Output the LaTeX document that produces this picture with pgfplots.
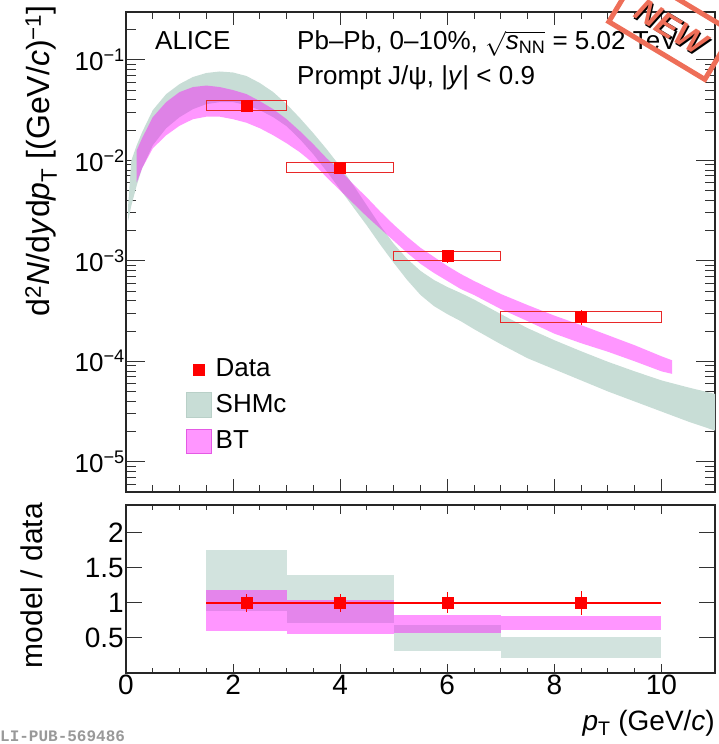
\documentclass[border=0pt]{standalone}
\usepackage{fontspec}
\setmainfont{Liberation Sans}
\setmonofont{Liberation Mono}
\usepackage{pgfplots}
\pgfplotsset{compat=1.18}

\definecolor{shmc}{RGB}{200,221,214}
\definecolor{shmcr}{RGB}{210,227,222}
\definecolor{shmcedge}{RGB}{185,208,200}
\definecolor{btc}{RGB}{255,0,255}
\definecolor{btedge}{RGB}{228,90,228}
\definecolor{datared}{RGB}{255,0,0}
\definecolor{boxred}{RGB}{232,40,40}
\definecolor{stamp}{RGB}{238,110,88}
\newcommand{\fs}[1]{\fontsize{#1}{#1}\selectfont}

\begin{document}
\begin{tikzpicture}
\useasboundingbox (0,0) rectangle (719pt,744pt);

% ---------------- top panel ----------------
\begin{axis}[
  at={(126pt,252pt)}, anchor=south west,
  scale only axis, width=589pt, height=480pt,
  xmin=0, xmax=11, ymode=log, ymin=5e-6, ymax=0.3,
  axis line style={line width=1.2pt, black!85},
  tick align=inside,
  every tick/.style={line width=1.0pt, black!80},
  xtick={0,2,4,6,8,10}, minor x tick num=3, xticklabels={},
  xtick style={/pgfplots/major tick length=13pt, /pgfplots/minor tick length=7pt},
  ytick={1e-5,1e-4,1e-3,1e-2,1e-1},
  yticklabels={10\textsuperscript{−5},10\textsuperscript{−4},10\textsuperscript{−3},10\textsuperscript{−2},10\textsuperscript{−1}},
  minor ytick={6e-6,7e-6,8e-6,9e-6,2e-5,3e-5,4e-5,5e-5,6e-5,7e-5,8e-5,9e-5,2e-4,3e-4,4e-4,5e-4,6e-4,7e-4,8e-4,9e-4,2e-3,3e-3,4e-3,5e-3,6e-3,7e-3,8e-3,9e-3,2e-2,3e-2,4e-2,5e-2,6e-2,7e-2,8e-2,9e-2,2e-1,3e-1},
  ytick style={/pgfplots/major tick length=19pt, /pgfplots/minor tick length=10pt},
  yticklabel style={font=\fs{26}, inner sep=1pt},
  /pgf/number format/assume math mode=true,
  legend cell align=left,
  legend style={at={(axis description cs:0.1014,0.2792)}, anchor=north west,
    draw=none, fill=none, inner sep=0pt, outer sep=0pt,
    row sep=10.5pt, column sep=4pt, font=\fs{26},
    nodes={inner sep=0pt, text height=19pt, text depth=5pt}},
]
\addlegendimage{legend image code/.code={\path (0pt,0pt) (25pt,0pt);\draw[only marks, mark=square*, mark size=5.5pt, color=datared] plot coordinates {(12.5pt,0pt)};}}
\addlegendentry{Data}
\addlegendimage{legend image code/.code={\draw[fill=shmc, draw=shmcedge, line width=1pt] (0pt,-12.3pt) rectangle (25pt,12.3pt);}}
\addlegendentry{SHMc}
\addlegendimage{legend image code/.code={\fill[btc, fill opacity=0.41] (0pt,-12.3pt) rectangle (25pt,12.3pt); \draw[btedge, line width=1pt] (0pt,-12.3pt) rectangle (25pt,12.3pt);}}
\addlegendentry{BT}

% SHMc band
\addplot[fill=shmc, draw=none, forget plot] coordinates {
(0.04,3.548e-3) (0.1,1.0e-2) (0.2,1.413e-2) (0.3,1.905e-2) (0.5,3.162e-2) (0.75,4.571e-2) (1,5.754e-2) (1.25,6.761e-2) (1.5,7.413e-2) (1.75,7.674e-2) (2,7.499e-2) (2.25,6.918e-2) (2.5,5.888e-2) (2.75,4.786e-2) (3,3.631e-2) (3.25,2.630e-2) (3.5,1.862e-2) (3.75,1.288e-2) (4,8.710e-3) (4.25,5.623e-3) (4.5,3.548e-3) (4.75,2.239e-3) (5,1.479e-3) (5.25,1.047e-3) (5.5,7.943e-4) (5.75,6.457e-4) (6,5.495e-4) (6.25,4.786e-4) (6.5,4.121e-4) (7,2.951e-4) (7.5,2.138e-4) (8,1.622e-4) (8.5,1.259e-4) (9,9.886e-5) (9.5,7.943e-5) (10,6.457e-5) (10.5,5.495e-5) (11,4.732e-5)
(11,2.042e-5) (10.5,2.512e-5) (10,3.162e-5) (9.5,3.981e-5) (9,5.012e-5) (8.5,6.457e-5) (8,8.318e-5) (7.5,1.072e-4) (7,1.479e-4) (6.5,2.089e-4) (6.25,2.512e-4) (6,2.951e-4) (5.75,3.548e-4) (5.5,4.571e-4) (5.25,6.457e-4) (5,9.550e-4) (4.75,1.445e-3) (4.5,2.239e-3) (4.25,3.388e-3) (4,5.129e-3) (3.75,7.762e-3) (3.5,1.148e-2) (3.25,1.622e-2) (3,2.188e-2) (2.75,2.692e-2) (2.5,3.162e-2) (2.25,3.548e-2) (2,3.802e-2) (1.75,3.802e-2) (1.5,3.631e-2) (1.25,3.236e-2) (1,2.692e-2) (0.75,2.089e-2) (0.5,1.413e-2) (0.3,8.318e-3) (0.2,5.623e-3) (0.1,3.548e-3) (0.04,2.512e-3)
} --cycle;

% BT band
\addplot[fill=btc, fill opacity=0.41, draw=none, forget plot] coordinates {
(0.2,1.259e-2) (0.3,1.660e-2) (0.5,2.692e-2) (0.75,3.802e-2) (1,4.786e-2) (1.25,5.370e-2) (1.5,5.559e-2) (1.75,5.370e-2) (2,5.012e-2) (2.25,4.571e-2) (2.5,3.890e-2) (2.75,3.236e-2) (3,2.570e-2) (3.25,1.950e-2) (3.5,1.445e-2) (3.75,1.047e-2) (4,7.943e-3) (4.25,5.754e-3) (4.5,4.266e-3) (4.75,3.090e-3) (5,2.291e-3) (5.25,1.738e-3) (5.5,1.349e-3) (5.75,1.096e-3) (6,8.913e-4) (6.25,7.413e-4) (6.5,6.310e-4) (7,4.677e-4) (7.5,3.631e-4) (8,2.851e-4) (8.5,2.291e-4) (9,1.820e-4) (9.5,1.445e-4) (10,1.122e-4) (10.2,1.023e-4)
(10.2,7.499e-5) (10,7.943e-5) (9.5,1.0e-4) (9,1.245e-4) (8.5,1.514e-4) (8,1.884e-4) (7.5,2.512e-4) (7,3.311e-4) (6.5,4.571e-4) (6.25,5.248e-4) (6,6.310e-4) (5.75,7.586e-4) (5.5,9.333e-4) (5.25,1.202e-3) (5,1.585e-3) (4.75,2.089e-3) (4.5,2.754e-3) (4.25,3.715e-3) (4,5.012e-3) (3.75,6.761e-3) (3.5,9.333e-3) (3.25,1.202e-2) (3,1.479e-2) (2.75,1.778e-2) (2.5,2.089e-2) (2.25,2.371e-2) (2,2.570e-2) (1.75,2.723e-2) (1.5,2.723e-2) (1.25,2.570e-2) (1,2.213e-2) (0.75,1.778e-2) (0.5,1.318e-2) (0.3,8.318e-3) (0.2,6.026e-3)
} --cycle;

% systematic boxes
\addplot[draw=boxred, line width=1.1pt, forget plot] coordinates {(1.5,0.0313) (3,0.0313) (3,0.0394) (1.5,0.0394)} --cycle;
\addplot[draw=boxred, line width=1.1pt, forget plot] coordinates {(3,0.00762) (5,0.00762) (5,0.00957) (3,0.00957)} --cycle;
\addplot[draw=boxred, line width=1.1pt, forget plot] coordinates {(5,0.00101) (7,0.00101) (7,0.00124) (5,0.00124)} --cycle;
\addplot[draw=boxred, line width=1.1pt, forget plot] coordinates {(7,2.45e-4) (10,2.45e-4) (10,3.16e-4) (7,3.16e-4)} --cycle;

% data
\addplot[only marks, mark=square*, mark size=5.5pt, color=datared, forget plot,
  error bars/.cd, y dir=both, y explicit, error mark=none,
  error bar style={line width=1pt, datared}] coordinates {
(2.25,0.0351) +- (0,0.00456)
(4,0.00853) +- (0,0.00111)
(6,0.00112) +- (0,0.000168)
(8.5,2.80e-4) +- (0,4.76e-5)
};
\end{axis}

% ---------------- ratio panel ----------------
\begin{axis}[
  at={(126pt,71pt)}, anchor=south west,
  scale only axis, width=589pt, height=168pt,
  xmin=0, xmax=11, ymin=0, ymax=2.4,
  axis line style={line width=1.2pt, black!85},
  tick align=inside,
  every tick/.style={line width=1.0pt, black!80},
  xtick={0,2,4,6,8,10}, xticklabels={0,2,4,6,8,10}, minor x tick num=3,
  xtick style={/pgfplots/major tick length=9pt, /pgfplots/minor tick length=5pt},
  ytick={0.5,1,1.5,2}, yticklabels={0.5,1,1.5,2},
  ytick style={/pgfplots/major tick length=16pt},
  xticklabel style={font=\fs{28}, inner sep=2pt},
  yticklabel style={font=\fs{28}, inner sep=2pt},
  /pgf/number format/assume math mode=true,
]
% SHMc ratio
\addplot[fill=shmcr, draw=none] coordinates {(1.5,0.891) (3,0.891) (3,1.754) (1.5,1.754)} --cycle;
\addplot[fill=shmcr, draw=none] coordinates {(3,0.713) (5,0.713) (5,1.40) (3,1.40)} --cycle;
\addplot[fill=shmcr, draw=none] coordinates {(5,0.31) (7,0.31) (7,0.68) (5,0.68)} --cycle;
\addplot[fill=shmcr, draw=none] coordinates {(7,0.22) (10,0.22) (10,0.514) (7,0.514)} --cycle;
% BT ratio
\addplot[fill=btc, fill opacity=0.41, draw=none] coordinates {(1.5,0.60) (3,0.60) (3,1.19) (1.5,1.19)} --cycle;
\addplot[fill=btc, fill opacity=0.41, draw=none] coordinates {(3,0.56) (5,0.56) (5,1.047) (3,1.047)} --cycle;
\addplot[fill=btc, fill opacity=0.41, draw=none] coordinates {(5,0.571) (7,0.571) (7,0.835) (5,0.835)} --cycle;
\addplot[fill=btc, fill opacity=0.41, draw=none] coordinates {(7,0.608) (10,0.608) (10,0.82) (7,0.82)} --cycle;
% data ratio
\addplot[datared, line width=1.1pt] coordinates {(1.5,1) (10,1)};
\addplot[only marks, mark=square*, mark size=5.5pt, color=datared,
  error bars/.cd, y dir=both, y explicit, error mark=none,
  error bar style={line width=1pt, datared}] coordinates {
(2.25,1) +- (0,0.13)
(4,1) +- (0,0.13)
(6,1) +- (0,0.15)
(8.5,1) +- (0,0.17)
};
\end{axis}

% ---------------- labels ----------------
\node[rotate=90, anchor=base east, font=\fs{32}, inner sep=0pt] at (50pt,739pt)
  {d\textsuperscript{2}\textit{N}/d\textit{y}d\textit{p}\textsubscript{T} [(GeV/\textit{c})\textsuperscript{−1}]};
\node[rotate=90, anchor=base east, font=\fs{30}, inner sep=0pt] at (43pt,241pt) {model / data};
\node[anchor=base east, font=\fs{28}, inner sep=0pt] at (715pt,13pt)
  {\textit{p}\textsubscript{T} (GeV/\textit{c})};

\node[anchor=base west, font=\fs{26}, inner sep=0pt] at (155pt,694pt) {ALICE};
\node[anchor=base west, font=\fs{26}, inner sep=0pt] at (297pt,694pt)
  {Pb–Pb, 0–10\%, $\sqrt{\mbox{\itshape s}_{\mbox{\fs{18}NN}}}$ = 5.02 TeV};
\node[anchor=base west, font=\fs{26}, inner sep=0pt] at (297pt,659pt)
  {Prompt J/ψ, |\textit{y}| < 0.9};

\node[anchor=base west, text=black!40, font=\ttfamily\bfseries\fs{16}, inner sep=0pt] at (-9.6pt,2.3pt) {ALI-PUB-569486};

% NEW stamp
\node[rotate=-31, draw=stamp, line width=5pt, minimum width=112pt, minimum height=55pt] at (671pt,717pt) {};
\node[rotate=-31, text=black, font=\bfseries\itshape\fs{33}] at (672.5pt,715.5pt) {NEW};
\node[rotate=-31, text=stamp, font=\bfseries\itshape\fs{33}] at (671pt,717pt) {NEW};
\end{tikzpicture}
\end{document}
